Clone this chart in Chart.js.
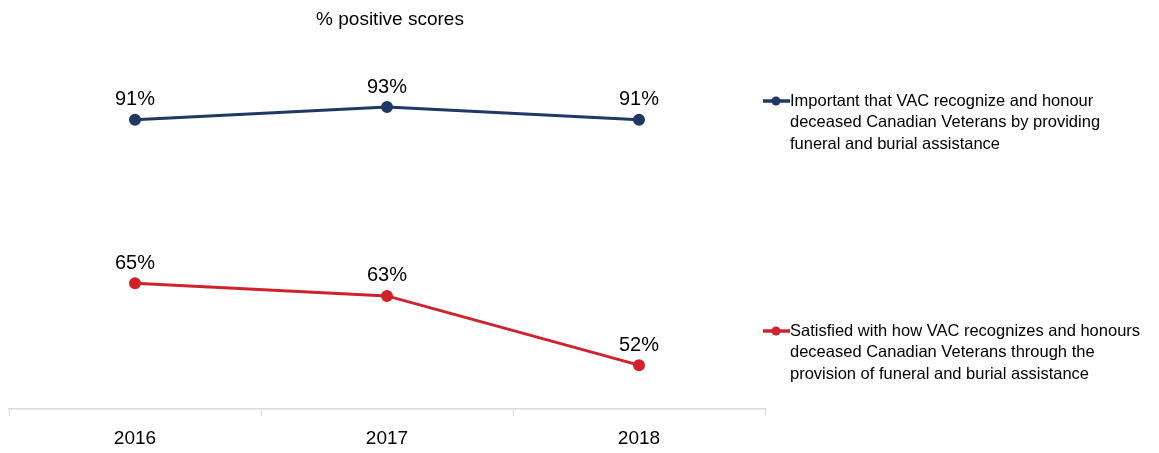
<!DOCTYPE html>
<html lang="en">
<head>
    <meta charset="UTF-8">
    <title>% positive scores</title>
    <script src="https://cdn.jsdelivr.net/npm/chart.js"></script>
    <style>
        html, body { margin: 0; padding: 0; background: #fff; overflow: hidden; }
        .container { position: relative; width: 1159px; height: 453px; overflow: hidden; }
        canvas { display: block; }
    </style>
</head>
<body>
    <div class="container">
        <canvas id="scoreChart" width="1159" height="456"></canvas>
    </div>
    <script>
        const years = ['2016', '2017', '2018'];
        const importantScores = [91, 93, 91];
        const satisfiedScores = [65, 63, 52];
        const seriesNames = [
            ['Important that VAC recognize and honour', 'deceased Canadian Veterans by providing', 'funeral and burial assistance'],
            ['Satisfied with how VAC recognizes and honours', 'deceased Canadian Veterans through the', 'provision of funeral and burial assistance']
        ];

        const navy = '#203864';
        const red = '#D0222E';
        const fontFamily = '"Liberation Sans Narrow", "Liberation Sans", Arial, sans-serif';

        // labels above points, title and the right-hand legend
        const extras = {
            id: 'extras',
            afterDatasetsDraw(chart) {
                const ctx = chart.ctx;
                ctx.save();
                ctx.fillStyle = '#000';
                ctx.textAlign = 'center';
                ctx.textBaseline = 'middle';
                ctx.font = '20px ' + fontFamily;
                chart.data.datasets.forEach((ds, i) => {
                    chart.getDatasetMeta(i).data.forEach((pt, j) => {
                        ctx.fillText(ds.data[j] + '%', pt.x, pt.y - 20);
                    });
                });

                ctx.font = '19px ' + fontFamily;
                ctx.fillText('% positive scores', 390, 20);

                const legendY = [101, 331];
                ctx.textAlign = 'left';
                ctx.font = '16.5px ' + fontFamily;
                chart.data.datasets.forEach((ds, i) => {
                    const y = legendY[i];
                    ctx.strokeStyle = ds.borderColor;
                    ctx.lineWidth = 3.5;
                    ctx.beginPath();
                    ctx.moveTo(763, y);
                    ctx.lineTo(790, y);
                    ctx.stroke();
                    ctx.fillStyle = ds.borderColor;
                    ctx.beginPath();
                    ctx.arc(776, y, 4.5, 0, Math.PI * 2);
                    ctx.fill();
                    ctx.fillStyle = '#000';
                    seriesNames[i].forEach((line, k) => {
                        ctx.fillText(line, 790, y + k * 21.5);
                    });
                });
                ctx.restore();
            }
        };

        const ctx = document.getElementById('scoreChart').getContext('2d');
        new Chart(ctx, {
            type: 'line',
            data: {
                labels: years,
                datasets: [
                    {
                        label: seriesNames[0].join(' '),
                        data: importantScores,
                        borderColor: navy,
                        backgroundColor: navy,
                        borderWidth: 3,
                        pointRadius: 4.5,
                        pointHoverRadius: 4.5
                    },
                    {
                        label: seriesNames[1].join(' '),
                        data: satisfiedScores,
                        borderColor: red,
                        backgroundColor: red,
                        borderWidth: 3,
                        pointRadius: 4.5,
                        pointHoverRadius: 4.5
                    }
                ]
            },
            options: {
                responsive: false,
                animation: false,
                layout: {
                    padding: { left: 9, right: 394, top: 63, bottom: -5 }
                },
                plugins: {
                    legend: { display: false },
                    title: { display: false },
                    tooltip: { enabled: false }
                },
                scales: {
                    x: {
                        offset: true,
                        grid: {
                            offset: true,
                            drawOnChartArea: false,
                            tickLength: 7,
                            color: '#d9d9d9'
                        },
                        border: { color: '#d9d9d9', width: 1.5 },
                        ticks: {
                            color: '#000',
                            padding: 11,
                            font: { family: fontFamily, size: 19 }
                        }
                    },
                    y: {
                        display: false,
                        min: 45,
                        max: 100
                    }
                }
            },
            plugins: [extras]
        });
    </script>
</body>
</html>
